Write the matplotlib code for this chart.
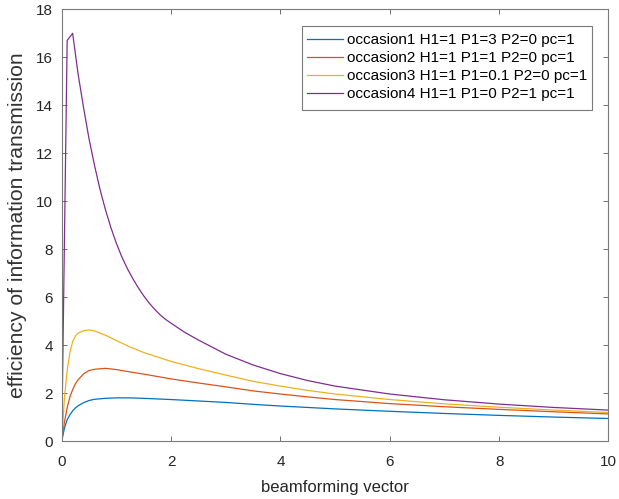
import matplotlib.pyplot as plt
from matplotlib.patches import Rectangle

plt.rcParams['font.family'] = ['Liberation Sans', 'DejaVu Sans']

# x grid shared by the three lower curves
x_low = [0, 0.05, 0.1, 0.15, 0.2, 0.25, 0.3, 0.4, 0.5, 0.6, 0.8, 1.0, 1.25,
         1.5, 2, 2.5, 3, 3.5, 4, 4.5, 5, 6, 7, 8, 9, 10]
occ1 = [0, 0.55, 0.9, 1.1, 1.27, 1.39, 1.48, 1.61, 1.7, 1.75, 1.79, 1.81,
        1.81, 1.79, 1.74, 1.68, 1.62, 1.54, 1.47, 1.41, 1.35, 1.25, 1.16,
        1.08, 1.01, 0.95]
occ2 = [0, 0.8, 1.4, 1.85, 2.15, 2.4, 2.56, 2.81, 2.95, 3.0, 3.04, 2.99,
        2.89, 2.8, 2.6, 2.43, 2.27, 2.1, 1.97, 1.85, 1.74, 1.57, 1.44, 1.33,
        1.23, 1.14]
occ3 = [0, 1.8, 2.95, 3.7, 4.15, 4.38, 4.51, 4.61, 4.64, 4.6, 4.42, 4.2,
        3.93, 3.7, 3.33, 3.03, 2.76, 2.5, 2.3, 2.12, 1.97, 1.74, 1.56, 1.42,
        1.3, 1.2]

x_p4 = [0, 0.1, 0.2, 0.3, 0.4, 0.5, 0.6, 0.7, 0.8, 0.9, 1.0, 1.1, 1.2, 1.3,
        1.4, 1.5, 1.6, 1.7, 1.8, 1.9, 2, 2.25, 2.5, 3, 3.5, 4, 4.5, 5, 6, 7,
        8, 9, 10]
occ4 = [0, 16.7, 17.0, 15.3, 13.9, 12.6, 11.5, 10.5, 9.65, 8.9, 8.25, 7.68,
        7.2, 6.78, 6.4, 6.06, 5.76, 5.5, 5.27, 5.08, 4.92, 4.54, 4.22, 3.63,
        3.18, 2.82, 2.53, 2.3, 1.97, 1.73, 1.55, 1.41, 1.3]

labels = ['occasion1 H1=1 P1=3 P2=0 pc=1',
          'occasion2 H1=1 P1=1 P2=0 pc=1',
          'occasion3 H1=1 P1=0.1 P2=0 pc=1',
          'occasion4 H1=1 P1=0 P2=1 pc=1']
colors = ['#0072BD', '#D95319', '#EDB120', '#7E2F8E']

W, H = 619, 499
fig = plt.figure(figsize=(W / 100, H / 100), dpi=100)
ax = fig.add_axes([61.7 / W, 1 - 441.3 / H, 546.8 / W, 432 / H])

ax.plot(x_low, occ1, color=colors[0], lw=0.9, label=labels[0])
ax.plot(x_low, occ2, color=colors[1], lw=0.9, label=labels[1])
ax.plot(x_low, occ3, color=colors[2], lw=0.9, label=labels[2])
ax.plot(x_p4, occ4, color=colors[3], lw=0.9, label=labels[3])

ax.set_xlim(0, 10)
ax.set_ylim(0, 18)
ax.set_xticks(range(0, 11, 2))
ax.set_yticks(range(0, 19, 2))
ax.tick_params(direction='in', length=3.5, width=0.7, colors='#6e6e6e',
               labelcolor='#262626', labelsize=11, top=True, right=True)
ax.tick_params(axis='x', pad=10)
ax.tick_params(axis='y', pad=6.5)
for s in ax.spines.values():
    s.set_color('#7a7a7a')
    s.set_linewidth(0.8)

ax.set_xlabel('beamforming vector', fontsize=12, color='#262626', va='top')
ax.xaxis.set_label_coords(0.5, -0.09)
ax.set_ylabel('efficiency of information transmission', fontsize=15.2,
              color='#333333')
ax.yaxis.set_label_coords(-0.064, 0.5)

# legend box (MATLAB style)
box = Rectangle((301.7 / W, 1 - 110 / H), 290 / W, 84 / H,
                transform=fig.transFigure, facecolor='white',
                edgecolor='#7a7a7a', lw=0.8, zorder=4)
ax.add_artist(box)
leg = ax.legend(loc='upper left', bbox_to_anchor=(301.7 / W, 1 - 28 / H),
                bbox_transform=fig.transFigure, borderaxespad=0,
                fontsize=11, frameon=False, handlelength=2.4,
                handletextpad=0.24, borderpad=0.33, labelspacing=0.27)
leg.set_zorder(5)

fig.savefig('out.png', dpi=100)
